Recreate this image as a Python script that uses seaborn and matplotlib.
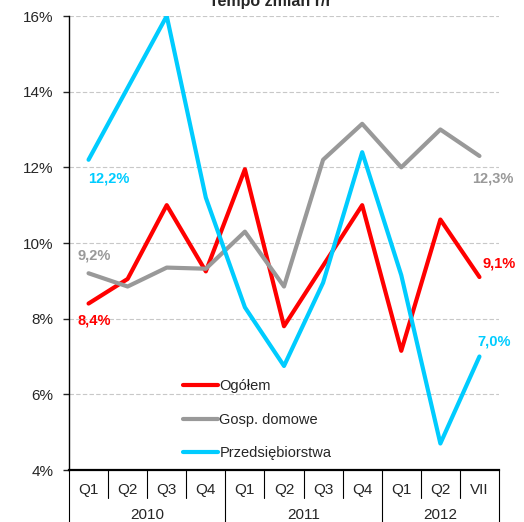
import matplotlib
matplotlib.use("Agg")
import matplotlib.pyplot as plt
import matplotlib.transforms as mtransforms
import seaborn as sns
import pandas as pd
import numpy as np

# ---- data ----
quarters = ["Q1", "Q2", "Q3", "Q4", "Q1", "Q2", "Q3", "Q4", "Q1", "Q2", "VII"]
years = ["2010", "2011", "2012"]
year_spans = [(0, 3), (4, 7), (8, 10)]
ogolem = [8.4, 9.05, 11.0, 9.25, 11.95, 7.8, 9.4, 11.0, 7.15, 10.62, 9.1]
gosp_domowe = [9.2, 8.85, 9.35, 9.32, 10.3, 8.85, 12.2, 13.15, 12.0, 13.0, 12.3]
przedsiebiorstwa = [12.2, 14.1, 16.0, 11.2, 8.3, 6.75, 8.95, 12.4, 9.15, 4.7, 7.0]
series_names = ["Ogółem", "Gosp. domowe", "Przedsiębiorstwa"]
colors = ["#FF0000", "#999999", "#00CCFF"]

rows = []
for name, vals in zip(series_names, [ogolem, gosp_domowe, przedsiebiorstwa]):
    for i, v in enumerate(vals):
        rows.append({"idx": i, "value": v, "series": name})
df = pd.DataFrame(rows)

sns.set_style("white")
plt.rcParams["font.family"] = ["Liberation Sans", "DejaVu Sans"]

fig = plt.figure(figsize=(5.24, 5.22), dpi=100)
ax = fig.add_axes([69/524, 1-470/522, 430/524, 454/522])

sns.lineplot(data=df, x="idx", y="value", hue="series", hue_order=series_names,
             palette=colors, linewidth=3.0, ax=ax, legend=True, sort=False)

ax.set_xlim(-0.5, 10.5)
ax.set_ylim(4, 16)
ax.set_yticks([4, 6, 8, 10, 12, 14, 16])
ax.set_yticklabels([f"{t}%" for t in [4, 6, 8, 10, 12, 14, 16]], fontsize=11)
ax.set_xticks(range(len(quarters)))
ax.set_xticklabels(quarters, fontsize=11)
ax.tick_params(axis="x", length=0, pad=9.5)
ax.tick_params(axis="y", length=4, width=1, direction="out", pad=7, left=True)
ax.set_xlabel("")
ax.set_ylabel("")
for yv in [6, 8, 10, 12, 14, 16]:
    ax.axhline(yv, color="#C8C8C8", lw=0.8, ls=(0, (4, 2)), zorder=0)
for s in ["top", "right"]:
    ax.spines[s].set_visible(False)
ax.spines["left"].set_color("black")
ax.spines["left"].set_linewidth(1.0)
ax.spines["bottom"].set_color("black")
ax.spines["bottom"].set_linewidth(1.6)

# category table
trans = mtransforms.blended_transform_factory(ax.transData, ax.transAxes)
q_bottom = (470-498)/454
y_bottom = (470-523)/454
year_bounds = [-0.5, 3.5, 7.5, 10.5]
for k in range(len(quarters) + 1):
    xb = k - 0.5
    yb = y_bottom if xb in year_bounds else q_bottom
    ax.plot([xb, xb], [0, yb], transform=trans, color="black", lw=0.8, clip_on=False)
for name, (a, b) in zip(years, year_spans):
    ax.text((a + b) / 2, (470-515)/454, name, transform=trans, ha="center",
            va="center", fontsize=11)

# legend
leg = ax.legend(loc="upper left", bbox_to_anchor=((183-69)/430, (470-379)/454),
                frameon=False, fontsize=10.5, handlelength=2.4, handletextpad=0.1,
                labelspacing=1.35, borderaxespad=0, borderpad=0)
for line in leg.get_lines():
    line.set_linewidth(3.0)

# value labels
lab_font = dict(fontsize=10.5, fontweight="bold", ha="left", va="center")
ax.annotate("12,2%", xy=(0, przedsiebiorstwa[0]), xytext=(-0.5, -19), textcoords="offset pixels", color=colors[2], **lab_font)
ax.annotate("9,2%", xy=(0, gosp_domowe[0]), xytext=(-11.5, 18), textcoords="offset pixels", color=colors[1], **lab_font)
ax.annotate("8,4%", xy=(0, ogolem[0]), xytext=(-11.5, -17), textcoords="offset pixels", color=colors[0], **lab_font)
ax.annotate("12,3%", xy=(10, gosp_domowe[-1]), xytext=(-7, -23), textcoords="offset pixels", color=colors[1], annotation_clip=False, **lab_font)
ax.annotate("9,1%", xy=(10, ogolem[-1]), xytext=(3, 14), textcoords="offset pixels", color=colors[0], annotation_clip=False, **lab_font)
ax.annotate("7,0%", xy=(10, przedsiebiorstwa[-1]), xytext=(-2, 15), textcoords="offset pixels", color=colors[2], annotation_clip=False, **lab_font)

fig.text(270/524, 1-6/522, "Tempo zmian r/r", ha="center", va="baseline",
         fontsize=11.5, fontweight="bold")

fig.savefig("out.png", dpi=100)
